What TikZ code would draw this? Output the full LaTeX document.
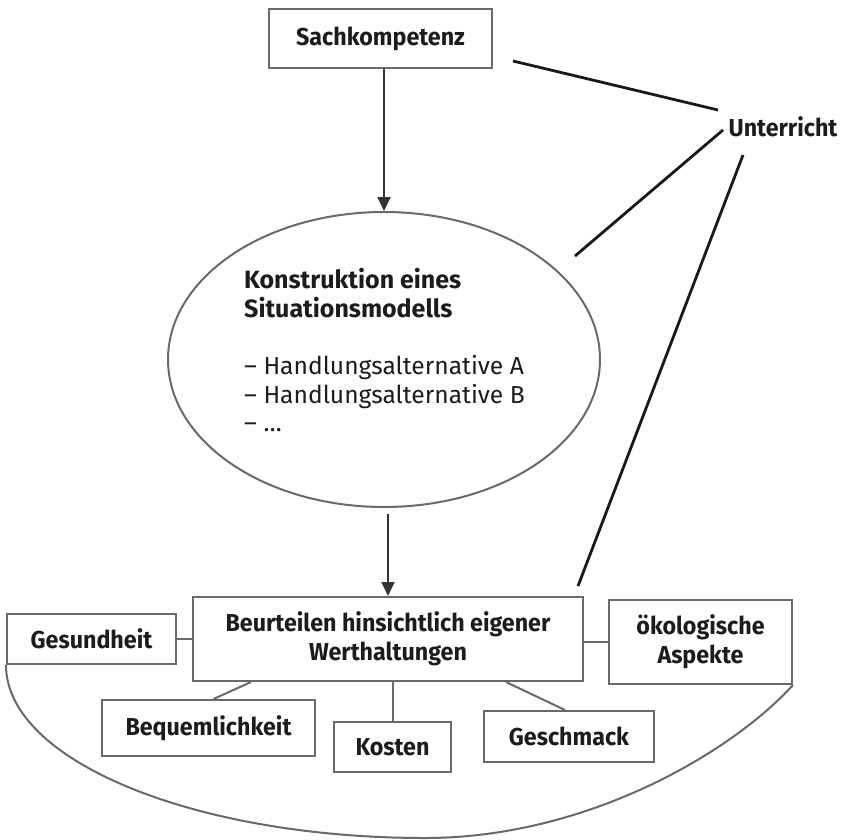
\documentclass[tikz,border=0pt]{standalone}
\usepackage{fontspec}
\setmainfont{Fira Sans}
\newfontfamily\boxfont{Fira Sans}[FakeStretch=0.95]
\usetikzlibrary{shapes.geometric,arrows.meta,calc}
\definecolor{boxgray}{RGB}{105,105,105}
\definecolor{txtcol}{RGB}{28,28,30}
\begin{document}
\begin{tikzpicture}[x=1pt,y=-1pt,
  box/.style={draw=boxgray, line width=2pt, fill=white, inner sep=0pt, align=center,
    text=txtcol, font=\boxfont\bfseries\fontsize{24.5}{29}\selectfont},
  lbl/.style={inner sep=0pt, text=txtcol, font=\boxfont\bfseries\fontsize{24.5}{29}\selectfont},
  ellbox/.style={ellipse, draw=boxgray, line width=2pt, inner sep=0pt,
    minimum width=432pt, minimum height=295pt},
  elltxt/.style={inner sep=0pt, align=left, text=txtcol, font=\fontsize{24.6}{28.7}\selectfont},
  arr/.style={draw=black!80, line width=1.8pt, -{Triangle[width=13pt,length=14pt]}},
  conn/.style={draw=boxgray, line width=2pt},
  uline/.style={draw=black!90, line width=2.8pt}]
\useasboundingbox (0,0) rectangle (859,839);

% nodes
\node[box, minimum width=223pt, minimum height=59pt] (sach) at (380.5,38.5) {Sachkompetenz};
\node[lbl] (unter) at (783,127) {Unterricht};
\node[ellbox] (ell) at (384,359.5) {};
\node[elltxt, anchor=north west] (etxt) at (244,268)
  {{\bfseries\fontsize{25}{28.7}\selectfont Konstruktion eines}\\{\bfseries\fontsize{25}{28.7}\selectfont Situationsmodells}\\[28.7pt]
   – Handlungsalternative A\\– Handlungsalternative B\\– …};

\node[box, minimum width=390pt, minimum height=84pt] (beur) at (388,639)
  {Beurteilen hinsichtlich eigener\\Werthaltungen};
\node[box, minimum width=169pt, minimum height=50pt] (ges) at (91.5,639) {Gesundheit};
\node[box, minimum width=183pt, minimum height=84pt] (oeko) at (700.5,642) {ökologische\\Aspekte};
\node[box, minimum width=213pt, minimum height=56pt] (bequ) at (208.5,728) {Bequemlichkeit};
\node[box, minimum width=117pt, minimum height=50pt] (kost) at (392.5,747) {Kosten};
\node[box, minimum width=170pt, minimum height=51pt] (gesch) at (569,736.5) {Geschmack};

% free ends of the Unterricht lines
\coordinate (s1) at (513,61);
\coordinate (u1) at (718,110);
\coordinate (e1) at (575,256);
\coordinate (u2) at (723,130);
\coordinate (u3) at (743,155);
\coordinate (b1) at (578,586);
\coordinate (bot) at (425,838);

% arrows
\draw[arr] (ell.north |- sach.south) -- (ell.north);
\draw[arr] ([yshift=-6pt]beur.north |- ell.south) -- (beur.north);

% Unterricht lines
\draw[uline] (s1) -- (u1);
\draw[uline] (e1) -- (u2);
\draw[uline] (b1) -- (u3);

% connectors
\draw[conn] (ges.east) -- (beur.west |- ges.east);
\draw[conn] (beur.east |- oeko.west) -- (oeko.west);
\draw[conn] ([xshift=59pt]beur.south west) -- ([xshift=5pt]bequ.north);
\draw[conn] (kost.north) -- (kost.north |- beur.south);
\draw[conn] ([xshift=-78pt]beur.south east) -- ([xshift=-4pt]gesch.north);

% big arc
\draw[conn] (ges.south west) .. controls ([yshift=-96pt]ges.south west) and (195,838) .. (bot)
  .. controls (585,838) and (730,754) .. (oeko.south east);
\end{tikzpicture}
\end{document}
